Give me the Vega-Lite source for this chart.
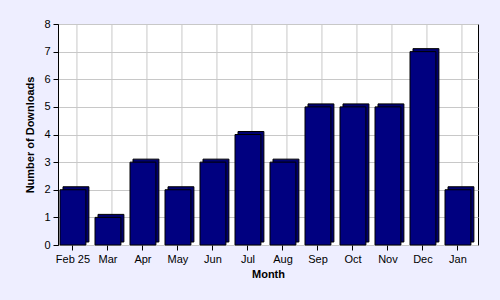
{
  "$schema": "https://vega.github.io/schema/vega-lite/v6.json",
  "autosize": {"type": "none"},
  "width": 420,
  "height": 221,
  "padding": {"left": 58, "top": 24, "right": 22, "bottom": 55},
  "background": "#eeeeff",
  "config": {
    "view": {"fill": "white", "stroke": "black", "strokeWidth": 1},
    "font": "Liberation Sans",
    "axis": {"labelFont": "Liberation Sans", "titleFont": "Liberation Sans", "labelFontSize": 11, "titleFontSize": 11, "labelColor": "black", "titleColor": "black", "tickColor": "black", "domainColor": "black", "titleFontWeight": "bold"}
  },
  "data": {"values": [
    {"month": "Feb 25", "downloads": 2},
    {"month": "Mar", "downloads": 1},
    {"month": "Apr", "downloads": 3},
    {"month": "May", "downloads": 2},
    {"month": "Jun", "downloads": 3},
    {"month": "Jul", "downloads": 4},
    {"month": "Aug", "downloads": 3},
    {"month": "Sep", "downloads": 5},
    {"month": "Oct", "downloads": 5},
    {"month": "Nov", "downloads": 5},
    {"month": "Dec", "downloads": 7},
    {"month": "Jan", "downloads": 2}
  ]},
  "encoding": {
    "x": {"field": "month", "type": "nominal", "sort": null,
      "scale": {"paddingInner": 0.26, "paddingOuter": 0.13, "align": 0.22},
      "axis": {"title": "Month", "labelAngle": 0, "grid": false, "domain": false, "tickSize": 5, "labelPadding": 3, "titlePadding": 4}}
  },
  "layer": [
    {
      "mark": {"type": "rule", "xOffset": 4, "color": "#c8c8c8", "strokeWidth": 1},
      "encoding": {}
    },
    {
      "mark": {"type": "bar", "xOffset": 3, "yOffset": -3, "color": "#000070", "stroke": "black", "strokeWidth": 1},
      "encoding": {
        "y": {"field": "downloads", "type": "quantitative",
          "scale": {"domain": [0, 8], "nice": false},
          "axis": {"title": "Number of Downloads", "tickCount": 8, "grid": true, "gridColor": "#c8c8c8", "gridOpacity": 1, "tickSize": 5, "labelPadding": 3, "titlePadding": 8}}
      }
    },
    {
      "mark": {"type": "bar", "color": "#000080", "stroke": "black", "strokeWidth": 1},
      "encoding": {
        "y": {"field": "downloads", "type": "quantitative"}
      }
    }
  ]
}
